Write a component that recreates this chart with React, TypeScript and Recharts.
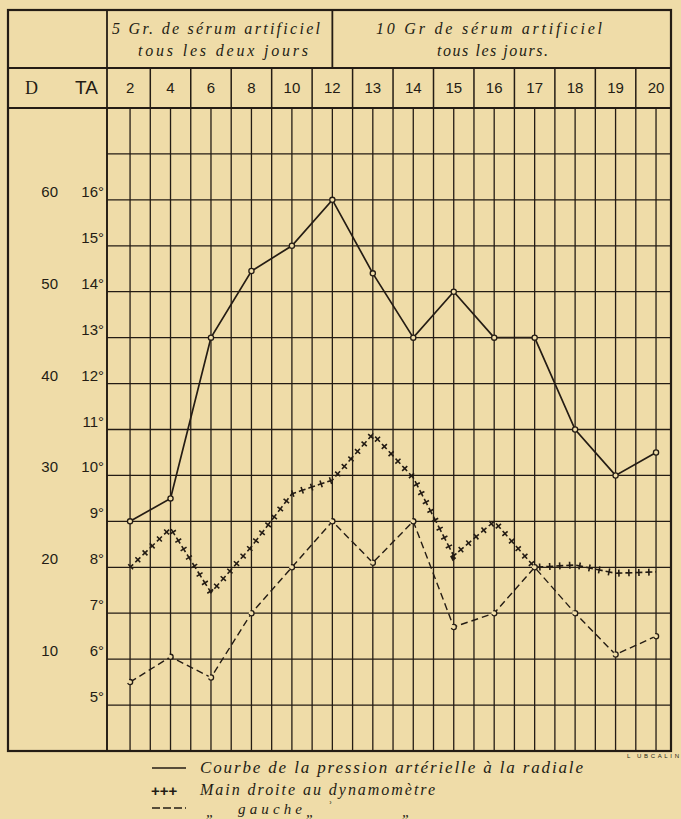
import { LineChart, Line, XAxis, YAxis, CartesianGrid } from 'recharts';

// jours d'observation (colonnes du tableau)
const days = ['2', '4', '6', '8', '10', '12', '13', '14', '15', '16', '17', '18', '19', '20'];
// pression artérielle à la radiale (TA, degrés)
const pression = [9, 9.5, 13, 14.45, 15, 16, 14.4, 13, 14, 13, 13, 11, 10, 10.5];
const droite = [8.0, 8.85, 7.45, 8.45, 9.6, 9.9, 10.9, 9.95, 8.25, 9.0, 8.0, 8.05, 7.87, 7.9];
// main gauche au dynamomètre
const gauche = [5.5, 6.05, 5.6, 7.0, 8.0, 9.0, 8.1, 9.0, 6.7, 7.0, 8.0, 7.0, 6.1, 6.5];

const xTicks = [
  0, 0.5, 1, 1.5, 2, 2.5, 3, 3.5, 4, 4.5, 5, 5.5, 6, 6.5, 7, 7.5, 8, 8.5, 9, 9.5, 10, 10.5, 11,
  11.5, 12, 12.5, 13,
];
const taTicks = [5, 6, 7, 8, 9, 10, 11, 12, 13, 14, 15, 16, 17];
const dTicks = [10, 20, 30, 40, 50, 60];
const groupStartIdx = 5; // le changement de régime se fait au jour 12

const data = days.map((d, i) => ({
  idx: i,
  day: d,
  pression: pression[i],
  droite: droite[i],
  gauche: gauche[i],
}));

const PAPER = '#EFDCA8';
const INK = '#241c14';
const SCRIPT = '"Liberation Serif", "DejaVu Serif", serif';
const SANS = '"Liberation Sans", "DejaVu Sans", sans-serif';

function DayTick(props: any) {
  const { x, payload } = props;
  const v = payload.value as number;
  if (Number.isInteger(v)) {
    return (
      <g>
        <text x={x} y={93} textAnchor="middle" fontFamily={SANS} fontSize={15} fill={INK}>
          {days[v]}
        </text>
        {v === groupStartIdx && <line x1={x} x2={x} y1={10} y2={68} stroke={INK} strokeWidth={1.8} />}
      </g>
    );
  }
  return <line x1={x} x2={x} y1={68} y2={108} stroke={INK} strokeWidth={1.5} />;
}

function TaTick(props: any) {
  const { y, payload } = props;
  if (payload.value === 17) return <g />;
  return (
    <text x={104} y={y - 3} textAnchor="end" fontFamily={SANS} fontSize={15} fill={INK}>
      {`${payload.value}°`}
    </text>
  );
}

function DTick(props: any) {
  const { y, payload } = props;
  return (
    <text x={58} y={y - 3} textAnchor="end" fontFamily={SANS} fontSize={15} fill={INK}>
      {payload.value}
    </text>
  );
}

const dot = { r: 2.6, fill: PAPER, stroke: INK, strokeWidth: 1.3 };

export default function App() {
  return (
    <div
      style={{
        position: 'absolute',
        left: 0,
        top: 0,
        width: 681,
        height: 819,
        background: PAPER,
        overflow: 'hidden',
      }}
    >
      <LineChart
        width={681}
        height={819}
        data={data}
        margin={{ top: 68, right: 10, bottom: 68, left: 8 }}
      >
        <CartesianGrid stroke={INK} strokeWidth={1.3} yAxisId="ta" />
        <XAxis
          dataKey="idx"
          type="number"
          orientation="top"
          height={40}
          domain={[-0.57, 13.37]}
          allowDataOverflow
          ticks={xTicks}
          interval={0}
          tick={<DayTick />}
          tickLine={false}
          axisLine={false}
        />
        <YAxis
          yAxisId="d"
          type="number"
          width={40}
          domain={[0, 70]}
          allowDataOverflow
          ticks={dTicks}
          interval={0}
          tick={<DTick />}
          tickLine={false}
          axisLine={false}
        />
        <YAxis
          yAxisId="ta"
          type="number"
          width={59}
          domain={[4, 18]}
          allowDataOverflow
          ticks={taTicks}
          interval={0}
          tick={<TaTick />}
          tickLine={false}
          axisLine={false}
        />
        {/* main droite : croix le long du tracé (barres transversales + traits) */}
        <Line
          yAxisId="ta"
          dataKey="droite"
          type="linear"
          stroke={INK}
          strokeWidth={7}
          strokeDasharray="1.6 8.4"
          dot={false}
          isAnimationActive={false}
        />
        <Line
          yAxisId="ta"
          dataKey="droite"
          type="linear"
          stroke={INK}
          strokeWidth={1.6}
          strokeDasharray="4.3 3 2.7 0"
          dot={false}
          isAnimationActive={false}
        />
        <Line
          yAxisId="ta"
          dataKey="gauche"
          type="linear"
          stroke={INK}
          strokeWidth={1.4}
          strokeDasharray="7 4"
          dot={dot}
          isAnimationActive={false}
        />
        <Line
          yAxisId="ta"
          dataKey="pression"
          type="linear"
          stroke={INK}
          strokeWidth={1.7}
          dot={dot}
          isAnimationActive={false}
        />
      </LineChart>

      <svg
        width={681}
        height={819}
        style={{ position: 'absolute', left: 0, top: 0, pointerEvents: 'none' }}
      >
        {/* cadre du tableau */}
        <rect x={8} y={10} width={663} height={741} fill="none" stroke={INK} strokeWidth={2.2} />
        <line x1={8} x2={671} y1={68} y2={68} stroke={INK} strokeWidth={1.8} />
        <line x1={8} x2={671} y1={108} y2={108} stroke={INK} strokeWidth={2} />
        <line x1={107} x2={107} y1={10} y2={751} stroke={INK} strokeWidth={1.8} />

        {/* en-tête */}
        <g fontFamily={SCRIPT} fontStyle="italic" fontSize={16} fill={INK}>
          <text x={112} y={34} textLength={208} lengthAdjust="spacing">
            5 Gr. de sérum artificiel
          </text>
          <text x={138} y={56} textLength={170} lengthAdjust="spacing">
            tous les deux jours
          </text>
          <text x={376} y={34} textLength={226} lengthAdjust="spacing">
            10 Gr de sérum artificiel
          </text>
          <text x={437} y={56} textLength={111} lengthAdjust="spacing">
            tous les jours.
          </text>
        </g>
        <text x={25} y={94} fontFamily={'"Liberation Serif", serif'} fontSize={18} fill={INK}>
          D
        </text>
        <text x={75} y={94} fontFamily={SANS} fontSize={19} fill={INK}>
          TA
        </text>

        {/* signature */}
        <text x={627} y={758} fontFamily={SANS} fontSize={6} fill={INK} textLength={52} lengthAdjust="spacing">
          L UBCALIN
        </text>

        {/* légende */}
        <line x1={152} x2={186} y1={768} y2={768} stroke={INK} strokeWidth={1.7} />
        <text x={151} y={796} fontFamily={SANS} fontSize={15} fontWeight="bold" fill={INK}>
          +++
        </text>
        <line x1={152} x2={186} y1={808} y2={808} stroke={INK} strokeWidth={1.5} strokeDasharray="8 3" />
        <g fontFamily={SCRIPT} fontStyle="italic" fill={INK}>
          <text x={200} y={773} fontSize={17} textLength={383} lengthAdjust="spacing">
            Courbe de la pression artérielle à la radiale
          </text>
          <text x={200} y={795} fontSize={16} textLength={235} lengthAdjust="spacing">
            Main droite au dynamomètre
          </text>
          <text x={206} y={817} fontSize={15}>„</text>
          <text x={238} y={814} fontSize={15} textLength={64} lengthAdjust="spacing">
            gauche
          </text>
          <text x={306} y={817} fontSize={15}>„</text>
          <text x={327} y={812} fontSize={15}>ʾ</text>
          <text x={402} y={817} fontSize={15}>„</text>
        </g>
      </svg>
    </div>
  );
}
